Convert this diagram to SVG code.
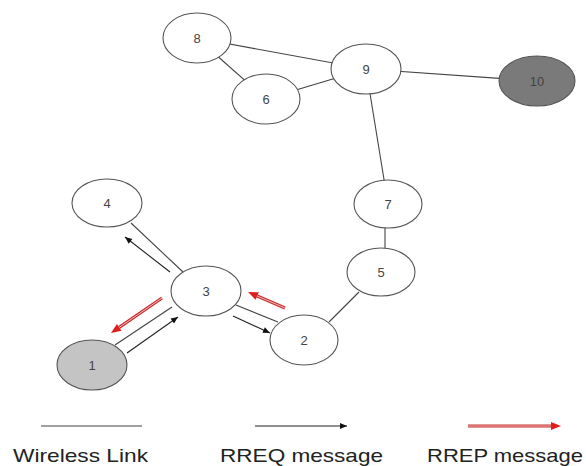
<svg xmlns="http://www.w3.org/2000/svg" width="586" height="466" viewBox="0 0 586 466">
<style>
.link{stroke:#444;stroke-width:1.1;fill:none}
.req{stroke:#222;stroke-width:1.1;fill:none;marker-end:url(#ah)}
.repo{stroke:#c83030;stroke-width:3.2;fill:none;marker-end:url(#rh)}
.repi{stroke:#f2b8b8;stroke-width:1;fill:none}
.node ellipse{fill:#fff;stroke:#555;stroke-width:1.1}
.node text{font-family:"Liberation Sans",Arial,sans-serif;font-size:13px;fill:#444;text-anchor:middle}
.leg{font-family:"Liberation Sans",Arial,sans-serif;font-size:19px;fill:#222}
</style>
<defs>
<marker id="ah" markerUnits="userSpaceOnUse" markerWidth="10" markerHeight="10" refX="7" refY="3" orient="auto" overflow="visible"><path d="M0,0 L7,3 L0,6 z" fill="#111"/></marker>
<marker id="rh" markerUnits="userSpaceOnUse" markerWidth="12" markerHeight="12" refX="0" refY="4" orient="auto" overflow="visible"><path d="M0,0 L10,4 L0,8 z" fill="#e01c1c"/></marker>
</defs>
<rect width="586" height="466" fill="#fff"/>
<g id="connectors">
<line class="link" x1="197" y1="38" x2="366" y2="69"/>
<line class="link" x1="197" y1="38" x2="266" y2="99"/>
<line class="link" x1="266" y1="99" x2="366" y2="69"/>
<line class="link" x1="366" y1="69" x2="537" y2="81"/>
<line class="link" x1="366" y1="69" x2="388" y2="204"/>
<line class="link" x1="385" y1="228" x2="385" y2="248"/>
<line class="link" x1="359" y1="292" x2="329" y2="322"/>
<line class="link" x1="236" y1="305" x2="278" y2="322"/>
<line class="link" x1="131" y1="223" x2="183" y2="272"/>
<line class="link" x1="115" y1="345" x2="172" y2="307"/>
<line class="req" x1="170" y1="272" x2="125" y2="237"/>
<line class="req" x1="127" y1="353" x2="178" y2="317"/>
<line class="req" x1="233" y1="316" x2="270" y2="333"/>
<line class="repo" x1="162" y1="298" x2="119.2" y2="327.4"/>
<line class="repi" x1="162" y1="298" x2="119.2" y2="327.4"/>
<line class="repo" x1="285" y1="308" x2="257.2" y2="296"/>
<line class="repi" x1="285" y1="308" x2="257.2" y2="296"/>
</g>
<g id="n1" class="node"><ellipse cx="92" cy="365" rx="35" ry="25" style="fill:#c4c4c4"/><text x="92" y="370">1</text></g>
<g id="n2" class="node"><ellipse cx="304" cy="340" rx="34" ry="25"/><text x="304" y="345">2</text></g>
<g id="n3" class="node"><ellipse cx="206" cy="291" rx="35" ry="25"/><text x="206" y="296">3</text></g>
<g id="n4" class="node"><ellipse cx="107" cy="203" rx="35" ry="24"/><text x="107" y="208">4</text></g>
<g id="n5" class="node"><ellipse cx="381" cy="272" rx="34" ry="24"/><text x="381" y="277">5</text></g>
<g id="n6" class="node"><ellipse cx="266" cy="99" rx="34" ry="25"/><text x="266" y="104">6</text></g>
<g id="n7" class="node"><ellipse cx="388" cy="204" rx="34" ry="24"/><text x="388" y="209">7</text></g>
<g id="n8" class="node"><ellipse cx="197" cy="38" rx="34" ry="25"/><text x="197" y="43">8</text></g>
<g id="n9" class="node"><ellipse cx="366" cy="69" rx="35" ry="25"/><text x="366" y="74">9</text></g>
<g id="n10" class="node"><ellipse cx="537" cy="81" rx="38" ry="25" style="fill:#7a7a7a"/><text x="537" y="86">10</text></g>
<g id="legend">
<line class="link" x1="41" y1="426" x2="142" y2="426"/>
<line class="req" x1="255" y1="426" x2="347" y2="426"/>
<line class="repo" x1="468" y1="426" x2="551" y2="426"/>
<line class="repi" x1="468" y1="426" x2="551" y2="426"/>
<text class="leg" x="13" y="462" textLength="135" lengthAdjust="spacingAndGlyphs">Wireless Link</text>
<text class="leg" x="220" y="462" textLength="163" lengthAdjust="spacingAndGlyphs">RREQ message</text>
<text class="leg" x="427" y="462" textLength="156" lengthAdjust="spacingAndGlyphs">RREP message</text>
</g>
</svg>
